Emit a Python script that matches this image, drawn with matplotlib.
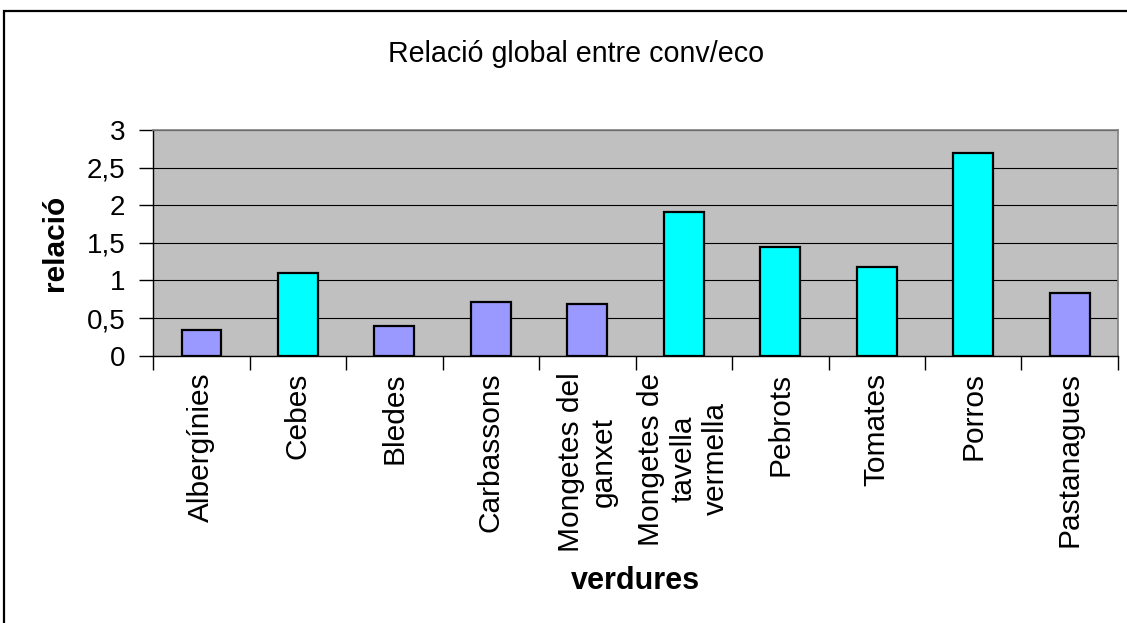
import numpy as np
import matplotlib
matplotlib.use("Agg")
import matplotlib.pyplot as plt
from matplotlib.patches import Rectangle

plt.rcParams["font.family"] = ["Liberation Sans", "DejaVu Sans"]

verdures = ["Albergínies", "Cebes", "Bledes", "Carbassons", "Mongetes del\nganxet",
            "Mongetes de\ntavella\nvermella", "Pebrots", "Tomates", "Porros", "Pastanagues"]
relacio = [0.34, 1.10, 0.39, 0.71, 0.69, 1.91, 1.44, 1.18, 2.70, 0.84]
y_ticks = [0, 0.5, 1, 1.5, 2, 2.5, 3]
y_labels = ["0", "0,5", "1", "1,5", "2", "2,5", "3"]

fig = plt.figure(figsize=(11.27, 6.23), dpi=100)
ax = fig.add_axes([0.1358, 0.429, 0.8562, 0.3623])

# outer chart border (runs off right and bottom edges)
fig.patches.append(Rectangle((4 / 1127, -0.2), 1.2, 1.2 - 11 / 623, transform=fig.transFigure,
                             fill=False, edgecolor="black", linewidth=1.6, zorder=0))

x = np.arange(len(verdures))
colors = ["#00FFFF" if v > 1 else "#9999FF" for v in relacio]
ax.bar(x, relacio, width=0.41, color=colors, edgecolor="black", linewidth=1.6, zorder=3)

ax.set_facecolor("#C0C0C0")
ax.set_xlim(-0.5, len(verdures) - 0.5)
ax.set_ylim(0, 3)
ax.set_yticks(y_ticks)
ax.set_yticklabels(y_labels, fontsize=20)
ax.yaxis.grid(True, color="black", linewidth=0.8, zorder=1)
ax.set_axisbelow(True)

# labels centred under bars, tick marks between categories
ax.set_xticks(x)
ax.set_xticklabels(verdures, rotation=90, fontsize=21.5, ha="center", va="top", multialignment="center",
                   linespacing=1.2)
ax.set_xticks(np.arange(-0.5, len(verdures)), minor=True)
ax.tick_params(axis="x", which="major", length=0, pad=12)
ax.tick_params(axis="x", which="minor", length=10, width=1, direction="out")
ax.tick_params(axis="y", length=10, width=1, direction="out", pad=10)

for s in ["top", "right"]:
    ax.spines[s].set_color("#808080")
    ax.spines[s].set_linewidth(1.2)
for s in ["left", "bottom"]:
    ax.spines[s].set_color("black")
    ax.spines[s].set_linewidth(1.0)

ax.set_xlabel("verdures", fontsize=22, fontweight="bold", va="center", ha="center")
ax.xaxis.set_label_coords(0.5, -0.998)
ax.set_ylabel("relació", fontsize=21.5, fontweight="bold", va="center", ha="center")
ax.yaxis.set_label_coords(-0.1016, 0.5)

fig.suptitle("Relació global entre conv/eco", x=0.511, y=1 - 54 / 623, va="center", fontsize=20.6)

plt.savefig("out.png", dpi=100)
